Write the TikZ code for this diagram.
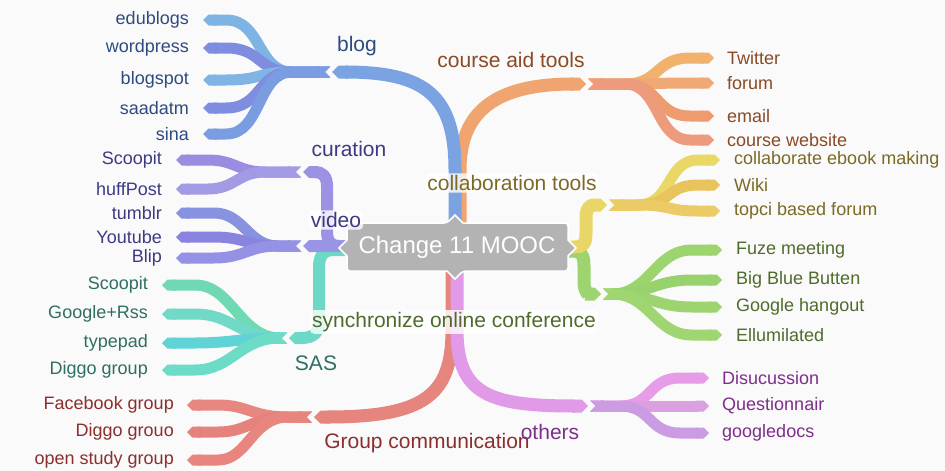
\documentclass[tikz,border=0pt]{standalone}
\usepackage{fontspec}
\setmainfont{Liberation Sans}
\usetikzlibrary{arrows.meta}
\definecolor{bg}{HTML}{FAFAFA}
\definecolor{boxg}{HTML}{B3B3B3}
\definecolor{cBlue}{HTML}{7BA3E1}
\definecolor{cB1}{HTML}{7DB4E4}
\definecolor{cB2}{HTML}{7F8DE1}
\definecolor{cB3}{HTML}{80B4E5}
\definecolor{cB4}{HTML}{7A9DE2}
\definecolor{cOrange}{HTML}{F0A571}
\definecolor{cO1}{HTML}{F1B26E}
\definecolor{cO2}{HTML}{F0A877}
\definecolor{cO3}{HTML}{EE9C6E}
\definecolor{cO4}{HTML}{EE9A7D}
\definecolor{cYel}{HTML}{E9D666}
\definecolor{cY1}{HTML}{EAD866}
\definecolor{cY2}{HTML}{E9C35B}
\definecolor{cY3}{HTML}{EBCB66}
\definecolor{cGreen}{HTML}{9DD46F}
\definecolor{cG1}{HTML}{9CD46E}
\definecolor{cG2}{HTML}{98D26C}
\definecolor{cG3}{HTML}{9DD470}
\definecolor{cG4}{HTML}{A0D672}
\definecolor{cPink}{HTML}{E09AE7}
\definecolor{cK1}{HTML}{E79CE8}
\definecolor{cK2}{HTML}{DBA0E1}
\definecolor{cK3}{HTML}{CB9BE4}
\definecolor{cRed}{HTML}{E6847E}
\definecolor{cR1}{HTML}{E8877F}
\definecolor{cR2}{HTML}{E6827C}
\definecolor{cR3}{HTML}{E8857F}
\definecolor{cTeal}{HTML}{6DD8C6}
\definecolor{cT1}{HTML}{6FD9B3}
\definecolor{cT2}{HTML}{70DAC7}
\definecolor{cT3}{HTML}{60D3D6}
\definecolor{cT4}{HTML}{6DDCC7}
\definecolor{cCur}{HTML}{9C92E3}
\definecolor{cP1}{HTML}{9B8CE1}
\definecolor{cP2}{HTML}{A29AE4}
\definecolor{cVid}{HTML}{9A94E4}
\definecolor{cV1}{HTML}{8792E0}
\definecolor{cV2}{HTML}{8A84E1}
\definecolor{cV3}{HTML}{9591E5}
\definecolor{tBlue}{HTML}{2E4B80}
\definecolor{tOr}{HTML}{8A4A24}
\definecolor{tYel}{HTML}{7A6A24}
\definecolor{tGr}{HTML}{4F6B2C}
\definecolor{tPk}{HTML}{7E2E8C}
\definecolor{tRd}{HTML}{8B2E2E}
\definecolor{tTl}{HTML}{2F6E64}
\definecolor{tPu}{HTML}{3D3A85}
\tikzset{
  mainrib/.style={line width=13pt, draw=#1, -{Triangle Cap}},
  leafrib/.style={line width=11pt, draw=#1, {Triangle Cap[reversed]}-{Triangle Cap}},
  lf/.style={font=\fontsize{18}{20}\selectfont, inner sep=0pt},
  br/.style={font=\fontsize{21}{24}\selectfont, inner sep=1pt},
  halo/.style={fill=white, fill opacity=0.8, text opacity=1, rounded corners=4pt, inner sep=2pt}
}
\begin{document}
\begin{tikzpicture}[x=1pt,y=-1pt]
\fill[bg] (0,0) rectangle (945,471);
\useasboundingbox (0,0) rectangle (945,471);

% junctions
\coordinate (bl) at (332,72);
\coordinate (ca) at (586,84);
\coordinate (co) at (607,205);
\coordinate (sy) at (601,294);
\coordinate (ot) at (588,406);
\coordinate (gc) at (314,417);
\coordinate (sa) at (289,338);
\coordinate (cu) at (303,172);
\coordinate (vi) at (303,246);

% main branches
\draw[mainrib=cOrange] (460,240) -- (460,170) .. controls (460,112) and (495,84) .. (ca);
\draw[mainrib=cBlue] (455,240) -- (455,170) .. controls (455,95) and (425,72) .. (bl);
\draw[mainrib=cRed] (452,260) -- (452,330) .. controls (452,395) and (425,417) .. (gc);
\draw[mainrib=cPink] (457,260) -- (457,330) .. controls (457,395) and (490,406) .. (ot);
\draw[mainrib=cGreen] (560,251) -- (572,251) .. controls (582,251) and (584,256) .. (584,266) -- (584,282) .. controls (584,291) and (588,294) .. (sy);
\draw[mainrib=cYel] (560,247) -- (574,247) .. controls (584,247) and (586,243) .. (586,233) -- (586,218) .. controls (586,208) and (590,205) .. (co);
\draw[mainrib=cTeal, line width=12pt] (350,250) -- (334,250) .. controls (322,250) and (319,257) .. (319,268) -- (319,322) .. controls (319,333) and (313,338) .. (sa);
\draw[mainrib=cCur, line width=12pt] (350,246) -- (340,246) .. controls (329,246) and (327,240) .. (327,230) -- (327,186) .. controls (327,176) and (322,172) .. (cu);
\draw[mainrib=cVid, line width=12pt] (350,246) -- (vi);

% blog leaves
\foreach \n/\y/\c/\t in {edu/20/cB1/edublogs, wp/48/cB2/wordpress, bs/80/cB3/blogspot, sd/108/cB2/saadatm, si/134/cB4/sina}{
  \coordinate (t\n) at (203,\y);
  \draw[leafrib=\c] (330,72) -- (292,72) .. controls (257,72) and (262,\y) .. (226,\y) -- (t\n);
  \node[lf, text=tBlue, anchor=east] (l\n) at (189,\y) {\t};
}
% curation leaves
\foreach \n/\y/\c/\t in {sc/160/cP1/Scoopit, hp/189/cP2/huffPost}{
  \coordinate (t\n) at (176,\y);
  \draw[leafrib=\c] (301,172) -- (265,172) .. controls (238,172) and (235,\y) .. (208,\y) -- (t\n);
  \node[lf, text=tPu, anchor=east] (l\n) at (162,\y) {\t};
}
% video leaves
\foreach \n/\y/\c/\t in {tu/213/cV1/tumblr, yt/237/cV2/Youtube, bp/258/cV3/Blip}{
  \coordinate (t\n) at (176,\y);
  \draw[leafrib=\c] (301,246) -- (278,246) .. controls (248,246) and (244,\y) .. (214,\y) -- (t\n);
  \node[lf, text=tPu, anchor=east] (l\n) at (162,\y) {\t};
}
% SAS leaves
\foreach \n/\y/\c/\t in {sa1/285/cT1/Scoopit, sa2/314/cT2/Google+Rss, sa3/343/cT3/typepad, sa4/370/cT4/Diggo group}{
  \coordinate (t\n) at (162,\y);
  \draw[leafrib=\c] (287,338) -- (280,338) .. controls (240,338) and (232,\y) .. (195,\y) -- (t\n);
  \node[lf, text=tTl, anchor=east] (l\n) at (148,\y) {\t};
}
% group leaves
\foreach \n/\y/\c/\t in {gc1/405/cR1/Facebook group, gc2/432/cR2/Diggo grouo, gc3/460/cR3/open study group}{
  \coordinate (t\n) at (187,\y);
  \draw[leafrib=\c] (312,417) -- (288,417) .. controls (252,417) and (248,\y) .. (218,\y) -- (t\n);
  \node[lf, text=tRd, anchor=east] (l\n) at (174,\y) {\t};
}
% course aid leaves
\foreach \n/\y/\c/\t in {tw/58/cO1/Twitter, fo/83/cO2/forum, em/116/cO3/email, cw/140/cO4/course website}{
  \coordinate (t\n) at (714,\y);
  \draw[leafrib=\c] (588,84) -- (625,84) .. controls (660,84) and (655,\y) .. (690,\y) -- (t\n);
  \node[lf, text=tOr, anchor=west] (l\n) at (727,\y) {\t};
}
% collaboration leaves
\foreach \n/\y/\c/\t in {eb/160/cY1/collaborate ebook making, wk/185/cY2/Wiki, tp/211/cY3/topci based forum}{
  \coordinate (t\n) at (720,\y);
  \draw[leafrib=\c] (609,205) -- (638,205) .. controls (672,205) and (666,\y) .. (698,\y) -- (t\n);
  \node[lf, text=tYel, anchor=west] (l\n) at (734,\y) {\t};
}
% sync leaves
\foreach \n/\y/\c/\t in {fz/250/cG1/Fuze meeting, bb/280/cG2/Big Blue Butten, gh/307/cG3/Google hangout, el/335/cG4/Ellumilated}{
  \coordinate (t\n) at (722,\y);
  \draw[leafrib=\c] (603,294) -- (612,294) .. controls (650,294) and (655,\y) .. (692,\y) -- (t\n);
  \node[lf, text=tGr, anchor=west] (l\n) at (736,\y) {\t};
}
% others leaves
\foreach \n/\y/\c/\t in {di/378/cK1/Disucussion, qu/406/cK2/Questionnair, gd/433/cK3/googledocs}{
  \coordinate (t\n) at (709,\y);
  \draw[leafrib=\c] (590,406) -- (620,406) .. controls (652,406) and (648,\y) .. (680,\y) -- (t\n);
  \node[lf, text=tPk, anchor=west] (l\n) at (722,\y) {\t};
}

% center box
\draw[white, line width=1.5pt, fill=boxg, rounded corners=3pt]
  (347,223) -- (447,223) [sharp corners] -- (455,215) -- (463,223) [rounded corners=3pt] -- (568,223)
  [sharp corners] -- (568,240) -- (576,248) -- (568,256) [rounded corners=3pt] -- (568,271)
  -- (463,271) [sharp corners] -- (455,279) -- (447,271) [rounded corners=3pt] -- (347,271)
  [sharp corners] -- (347,256) -- (339,248) -- (347,240) [rounded corners=3pt] -- cycle;
\node[font=\fontsize{24}{28}\selectfont, text=white, inner sep=0pt] (root) at (457,247) {Change 11 MOOC};

% branch labels
\node[br, text=tBlue] (nblog) at (357,46) {blog};
\node[br, text=tOr] (ncat) at (511,60) {course aid tools};
\node[br, halo, text=tYel] (ncol) at (512,183) {collaboration tools};
\node[br, text=tPu] (ncur) at (349,149) {curation};
\node[br, halo, text=tPu] (nvid) at (336,220) {video};
\node[br, halo, text=tGr] (nsyn) at (454,322) {synchronize online conference};
\node[br, text=tTl] (nsas) at (316,363) {SAS};
\node[br, text=tRd] (ngc) at (427,443) {Group communication};
\node[br, text=tPk] (noth) at (550,432) {others};
\end{tikzpicture}
\end{document}
